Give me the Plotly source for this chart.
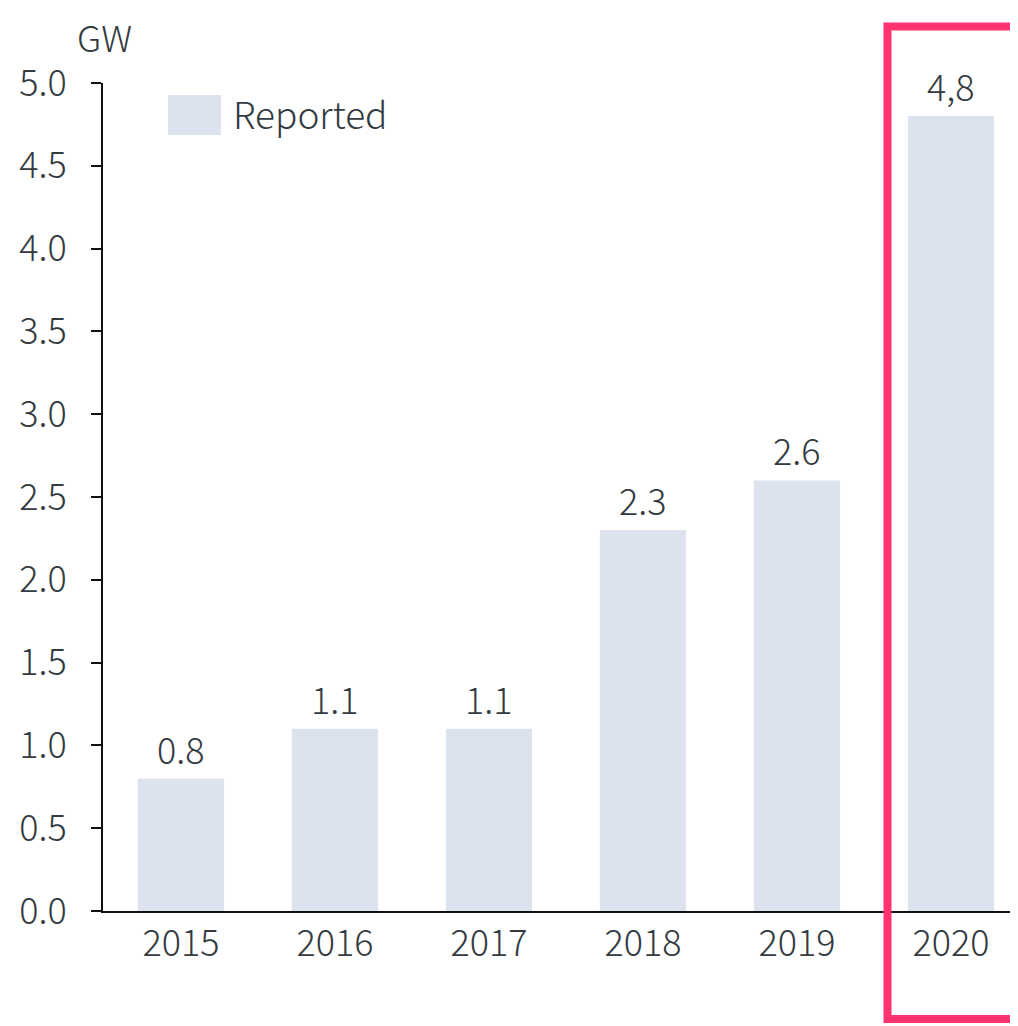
import plotly.graph_objects as go

years = ["2015", "2016", "2017", "2018", "2019", "2020"]
values = [0.8, 1.1, 1.1, 2.3, 2.6, 4.8]
value_labels = ["0.8", "1.1", "1.1", "2.3", "2.6", "4,8"]
y_ticks = [0, 0.5, 1.0, 1.5, 2.0, 2.5, 3.0, 3.5, 4.0, 4.5, 5.0]
y_tick_text = ["0.0", "0.5", "1.0", "1.5", "2.0", "2.5", "3.0", "3.5", "4.0", "4.5", "5.0"]
series_name = "Reported"
unit = "GW"

FONT = "Noto Sans CJK JP"
W = 300
TXT = "#333a40"
BAR = "#dde3ee"
RED = "#ff3370"

# page offsets (html body margin 8px)
OFF = 8
L, T, PW, PH = 103 - OFF, 83 - OFF, 915, 828.5
FIG_W, FIG_H = 1018 - OFF, 1026 - OFF


def px(xp):
    return (xp - OFF - L) / PW


def py(yp):
    return (T + PH - (yp - OFF)) / PH


fig = go.Figure()
fig.add_trace(go.Bar(
    x=list(range(len(years))), y=values, name=series_name,
    marker=dict(color=BAR, line=dict(width=0)), width=0.56,
    showlegend=False,
))

for i, (v, t) in enumerate(zip(values, value_labels)):
    fig.add_annotation(x=i, y=v, xref="x", yref="y", text=t, showarrow=False,
                       yanchor="bottom", yshift=3,
                       font=dict(family=FONT, size=36, color=TXT, weight=W))

# unit label
fig.add_annotation(x=px(104), y=1, xref="paper", yref="paper", text=unit,
                   showarrow=False, xanchor="center", yanchor="top", yshift=T,
                   font=dict(family=FONT, size=36, color=TXT, weight=W))

# legend (manual, large swatch)
fig.add_shape(type="rect", xref="paper", yref="paper",
              x0=px(168), x1=px(221), y0=py(135), y1=py(95),
              fillcolor=BAR, line=dict(width=0))
fig.add_annotation(x=px(231), y=py(113), xref="paper", yref="paper",
                   text=series_name, showarrow=False, xanchor="left", yanchor="middle",
                   font=dict(family=FONT, size=37, color=TXT, weight=W))

# highlight box around 2020
fig.add_shape(type="rect", xref="paper", yref="paper",
              x0=px(887.5), x1=px(1040), y0=py(1019.5), y1=py(26.5),
              line=dict(color=RED, width=8), fillcolor="rgba(0,0,0,0)", layer="above")

fig.update_layout(
    width=FIG_W, height=FIG_H,
    margin=dict(l=L, r=0, t=T, b=FIG_H - T - PH, pad=0),
    paper_bgcolor="white", plot_bgcolor="white",
    font=dict(family=FONT, size=36, color=TXT, weight=W),
    xaxis=dict(
        range=[-0.506, 5.435], tickmode="array",
        tickvals=list(range(len(years))), ticktext=years,
        showgrid=False, zeroline=False, showline=True, linecolor="#111", linewidth=2,
        ticks="", tickfont=dict(family=FONT, size=36, color=TXT, weight=W),
        ticklabelstandoff=0,
    ),
    yaxis=dict(
        range=[0, 5.0], tickmode="array", tickvals=y_ticks, ticktext=y_tick_text,
        showgrid=False, zeroline=False, showline=True, linecolor="#111", linewidth=2,
        ticks="outside", ticklen=10, tickwidth=2, tickcolor="#111",
        tickfont=dict(family=FONT, size=36, color=TXT, weight=W), ticklabelstandoff=17,
    ),
    bargap=0.44,
)

fig.write_html("out.html")
